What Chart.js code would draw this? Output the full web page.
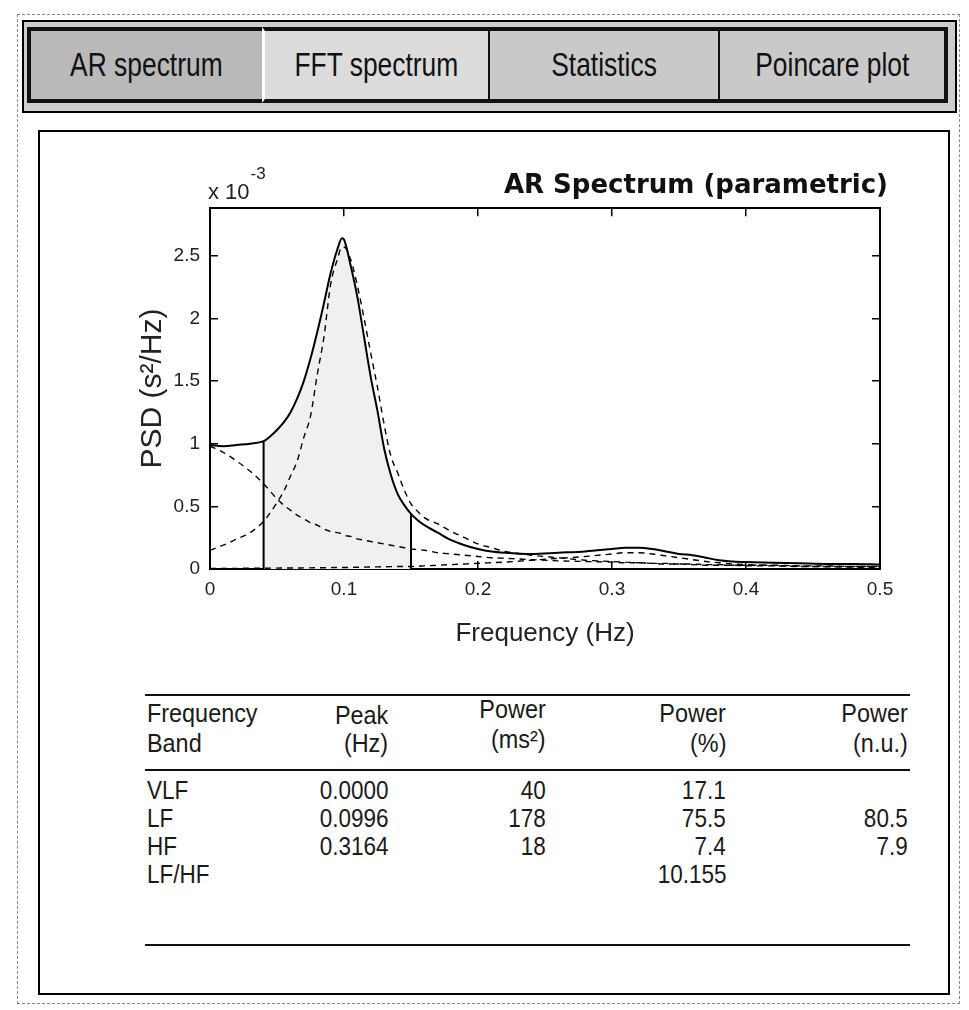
<!DOCTYPE html>
<html>
<head>
<meta charset="utf-8">
<script src="https://cdn.jsdelivr.net/npm/chart.js@4"></script>
<style>
  html, body { margin: 0; padding: 0; background: #fff; }
  body { width: 969px; height: 1010px; position: relative; overflow: hidden;
         font-family: "Liberation Sans", Arial, sans-serif; color: #111; }
  .abs { position: absolute; }
  #frame { left: 17px; top: 14px; width: 941px; height: 988px; border: 1px dashed #888; }
  #tabbar { left: 22px; top: 20px; width: 931px; height: 89px; border: 2px solid #000; background: #cdcdcd; }
  .tab { top: 27px; height: 76px; background: #c9c9c9; display: flex; align-items: center; justify-content: center;
         font-size: 33px; box-sizing: border-box; }
  .tab span { display: inline-block; transform: scaleX(0.8); white-space: nowrap; }
  #t0 { left: 27px; width: 235px; background: #b9b9b9; border: 4px solid #111; border-right: none; }
  #t1 { left: 262px; width: 226px; background: #dcdcdc; border-left: 3px solid #fff; border-top: 4px solid #111; border-bottom: 4px solid #111; }
  #t2 { left: 488px; width: 230px; border-left: 2px solid #111; border-top: 4px solid #111; border-bottom: 4px solid #111; }
  #t3 { left: 718px; width: 230px; border: 4px solid #111; border-left-width: 2px; }
  #panel { left: 38px; top: 130px; width: 908px; height: 861px; border: 2px solid #000; background: #fff; }
  #chart { left: 0; top: 0; }
  #expo { left: 208px; top: 176px; font-size: 22px; color: #222; white-space: nowrap; }
  #expo sup { font-size: 17px; position: relative; top: -12px; margin-left: 1px; }
  .rule { height: 2px; background: #111; left: 145px; width: 765px; }
  .cell { white-space: nowrap; color: #1a1a1a; }
  .cell span { display: inline-block; transform: scaleX(0.9); }
  .l span { transform-origin: left center; }
  .r span { transform-origin: right center; }
</style>
</head>
<body>
<div id="frame" class="abs"></div>
<div id="tabbar" class="abs"></div>
<div id="t0" class="abs tab"><span>AR spectrum</span></div>
<div id="t1" class="abs tab"><span>FFT spectrum</span></div>
<div id="t2" class="abs tab"><span>Statistics</span></div>
<div id="t3" class="abs tab"><span>Poincare plot</span></div>
<div id="panel" class="abs"></div>
<canvas id="chart" class="abs" width="969" height="660"></canvas>
<div id="expo" class="abs">x 10<sup>-3</sup></div>
<div id="table"></div>
<script>
// Frequency grid (Hz) and PSD curves in units of 10^-3 s^2/Hz
const freqHz = [0, 0.01, 0.02, 0.03, 0.04, 0.045, 0.05, 0.055, 0.06, 0.065, 0.07, 0.075, 0.08, 0.085,
  0.09, 0.095, 0.0985, 0.1, 0.105, 0.11, 0.115, 0.12, 0.125, 0.13, 0.135, 0.14, 0.145, 0.15, 0.155,
  0.16, 0.17, 0.18, 0.19, 0.2, 0.21, 0.22, 0.24, 0.26, 0.28, 0.3, 0.31, 0.32, 0.33, 0.34, 0.35, 0.36,
  0.37, 0.38, 0.39, 0.4, 0.42, 0.44, 0.46, 0.48, 0.5];
const psdTotal = [0.99, 0.98, 0.99, 1.0, 1.02, 1.06, 1.11, 1.17, 1.25, 1.36, 1.5, 1.68, 1.89, 2.12,
  2.36, 2.55, 2.64, 2.63, 2.42, 2.17, 1.85, 1.53, 1.26, 0.96, 0.75, 0.6, 0.51, 0.44, 0.39,
  0.35, 0.29, 0.23, 0.19, 0.16, 0.14, 0.13, 0.12, 0.13, 0.14, 0.16, 0.17, 0.17, 0.16, 0.14, 0.12, 0.11,
  0.09, 0.07, 0.06, 0.055, 0.05, 0.045, 0.04, 0.04, 0.035];
const psdVLF = [0.98, 0.93, 0.86, 0.78, 0.68, 0.62, 0.56, 0.51, 0.47, 0.43, 0.4, 0.37, 0.35, 0.32,
  0.3, 0.29, 0.28, 0.27, 0.26, 0.24, 0.23, 0.22, 0.21, 0.2, 0.19, 0.18, 0.17, 0.16, 0.155,
  0.15, 0.13, 0.12, 0.11, 0.1, 0.09, 0.085, 0.075, 0.065, 0.06, 0.055, 0.05, 0.05, 0.045, 0.045, 0.04, 0.04,
  0.035, 0.035, 0.03, 0.03, 0.03, 0.025, 0.025, 0.02, 0.02];
const psdLF = [0.15, 0.19, 0.24, 0.29, 0.38, 0.45, 0.53, 0.62, 0.74, 0.86, 1.05, 1.22, 1.55, 1.85,
  2.27, 2.47, 2.57, 2.57, 2.47, 2.26, 2.0, 1.72, 1.45, 1.15, 0.9, 0.77, 0.63, 0.52, 0.46,
  0.41, 0.36, 0.3, 0.25, 0.2, 0.17, 0.14, 0.11, 0.09, 0.07, 0.06, 0.055, 0.05, 0.045, 0.04, 0.04, 0.035,
  0.03, 0.03, 0.03, 0.025, 0.025, 0.02, 0.02, 0.02, 0.02];
const psdHF = [0.005, 0.005, 0.005, 0.006, 0.006, 0.007, 0.007, 0.008, 0.008, 0.008, 0.009, 0.009, 0.01, 0.01,
  0.011, 0.012, 0.012, 0.012, 0.013, 0.014, 0.015, 0.016, 0.017, 0.018, 0.019, 0.02, 0.02, 0.02, 0.022,
  0.025, 0.03, 0.035, 0.04, 0.045, 0.05, 0.055, 0.07, 0.085, 0.1, 0.12, 0.13, 0.13, 0.12, 0.105, 0.09, 0.075,
  0.06, 0.05, 0.04, 0.035, 0.028, 0.022, 0.018, 0.015, 0.012];
const bandEdgesHz = [0.04, 0.15];

const xTickValues = [0, 0.1, 0.2, 0.3, 0.4, 0.5];
const xTickLabels = ['0', '0.1', '0.2', '0.3', '0.4', '0.5'];
const yTickValues = [0, 0.5, 1, 1.5, 2, 2.5];
const yTickLabels = ['0', '0.5', '1', '1.5', '2', '2.5'];

// Band results table
const headerRow1 = ['Frequency', 'Peak', 'Power', 'Power', 'Power'];
const headerRow2 = ['Band', '(Hz)', '(ms²)', '(%)', '(n.u.)'];
const bandNames = ['VLF', 'LF', 'HF', 'LF/HF'];
const peakHz = ['0.0000', '0.0996', '0.3164', ''];
const powerMs2 = ['40', '178', '18', ''];
const powerPct = ['17.1', '75.5', '7.4', '10.155'];
const powerNu = ['', '80.5', '7.9', ''];

// ---- table layout ----
const table = document.getElementById('table');
const colRight = [null, 388, 546, 726, 908];
function addCell(text, x, top, size, alignRight) {
  const d = document.createElement('div');
  d.className = 'abs cell ' + (alignRight ? 'r' : 'l');
  d.style.top = top + 'px';
  d.style.fontSize = size + 'px';
  if (alignRight) { d.style.right = (969 - x) + 'px'; d.style.textAlign = 'right'; }
  else d.style.left = x + 'px';
  const s = document.createElement('span');
  s.textContent = text;
  d.appendChild(s);
  table.appendChild(d);
}
function addRule(y) {
  const r = document.createElement('div');
  r.className = 'abs rule';
  r.style.top = y + 'px';
  table.appendChild(r);
}
addRule(694);
addRule(769);
addRule(944);
const head1Top = [698, 700, 694, 698, 698];
const head2Top = [728, 728, 724, 728, 728];
headerRow1.forEach((t, i) => addCell(t, i === 0 ? 147 : colRight[i], head1Top[i], 26, i > 0));
headerRow2.forEach((t, i) => addCell(t, i === 0 ? 147 : colRight[i], head2Top[i], 26, i > 0));
const rowTop = [776, 804, 832, 860];
bandNames.forEach((name, r) => {
  const vals = [name, peakHz[r], powerMs2[r], powerPct[r], powerNu[r]];
  vals.forEach((t, i) => { if (t) addCell(t, i === 0 ? 147 : colRight[i], rowTop[r], 25, i > 0); });
});

// ---- chart ----
const pts = arr => freqHz.map((f, i) => ({ x: f, y: arr[i] }));
const lfBand = pts(psdTotal).filter(p => p.x >= bandEdgesHz[0] && p.x <= bandEdgesHz[1]);
const edgeLine = f => [{ x: f, y: 0 }, { x: f, y: psdTotal[freqHz.indexOf(f)] }];

const tickFont = { family: '"Liberation Sans", Arial, sans-serif', size: 19 };
const boxAxis = (pos, values, max) => ({
  type: 'linear', position: pos, min: 0, max: max,
  afterBuildTicks: s => { s.ticks = values.map(v => ({ value: v })); },
  ticks: { display: false },
  grid: { drawOnChartArea: false, drawTicks: true, tickLength: -8, color: '#000', lineWidth: 1.5 },
  border: { display: true, color: '#000', width: 2 }
});
const yMax = 2.88;

new Chart(document.getElementById('chart'), {
  type: 'line',
  data: {
    datasets: [
      { data: pts(psdTotal), borderColor: '#000', borderWidth: 2, pointRadius: 0, cubicInterpolationMode: 'monotone', order: 1 },
      { data: pts(psdLF), borderColor: '#000', borderWidth: 1.4, borderDash: [6, 5], pointRadius: 0, cubicInterpolationMode: 'monotone', order: 2 },
      { data: pts(psdVLF), borderColor: '#000', borderWidth: 1.4, borderDash: [6, 5], pointRadius: 0, cubicInterpolationMode: 'monotone', order: 2 },
      { data: pts(psdHF), borderColor: '#000', borderWidth: 1.4, borderDash: [6, 5], pointRadius: 0, cubicInterpolationMode: 'monotone', order: 2 },
      { data: edgeLine(bandEdgesHz[0]), borderColor: '#000', borderWidth: 2, pointRadius: 0, order: 1 },
      { data: edgeLine(bandEdgesHz[1]), borderColor: '#000', borderWidth: 2, pointRadius: 0, order: 1 },
      { data: lfBand, borderWidth: 0, backgroundColor: '#f0f0f0', fill: 'origin', pointRadius: 0, cubicInterpolationMode: 'monotone', order: 5 }
    ]
  },
  options: {
    responsive: false, animation: false, devicePixelRatio: 1,
    layout: { padding: { left: 130, right: 81, top: 0, bottom: 11 } },
    plugins: {
      legend: { display: false }, tooltip: { enabled: false },
      title: {
        display: true, text: 'AR Spectrum (parametric)', align: 'end', color: '#111',
        font: { family: '"DejaVu Sans", sans-serif', size: 26, weight: 'bold' },
        padding: { top: 171, bottom: 6 }
      }
    },
    scales: {
      x: {
        type: 'linear', position: 'bottom', min: 0, max: 0.5,
        afterBuildTicks: s => { s.ticks = xTickValues.map(v => ({ value: v })); },
        afterFit: s => { s.height = 80; },
        ticks: { callback: (v, i) => xTickLabels[i], font: tickFont, color: '#222', padding: 17, maxRotation: 0 },
        grid: { drawOnChartArea: false, drawTicks: true, tickLength: -8, color: '#000', lineWidth: 1.5 },
        border: { display: true, color: '#000', width: 2 },
        title: { display: true, text: 'Frequency (Hz)', color: '#222', font: { family: '"Liberation Sans", Arial, sans-serif', size: 26 }, padding: { top: 0, bottom: 0 } }
      },
      y: {
        type: 'linear', position: 'left', min: 0, max: yMax,
        afterBuildTicks: s => { s.ticks = yTickValues.map(v => ({ value: v })); },
        afterFit: s => { s.width = 80; },
        ticks: { callback: (v, i) => yTickLabels[i], font: tickFont, color: '#222', padding: 18 },
        grid: { drawOnChartArea: false, drawTicks: true, tickLength: -8, color: '#000', lineWidth: 1.5 },
        border: { display: true, color: '#000', width: 2 },
        title: { display: true, text: 'PSD (s²/Hz)', color: '#222', font: { family: '"Liberation Sans", Arial, sans-serif', size: 30 }, padding: { top: 5, bottom: 0 } }
      },
      x2: Object.assign(boxAxis('top', xTickValues, 0.5), { afterFit: s => { s.height = 0; } }),
      y2: Object.assign(boxAxis('right', yTickValues, yMax), { afterFit: s => { s.width = 8; } })
    }
  }
});
</script>
</body>
</html>
